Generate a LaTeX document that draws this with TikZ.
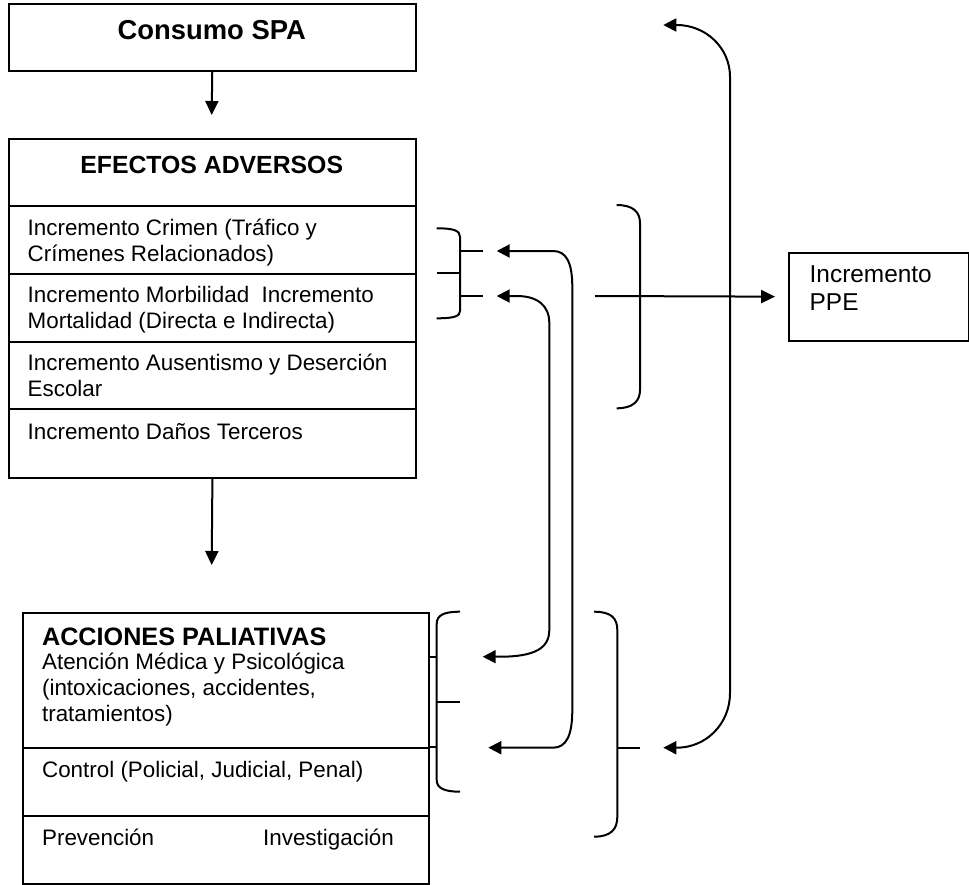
\documentclass[tikz,border=0pt]{standalone}
\usepackage{fontspec}
\setmainfont{Liberation Sans}
\usetikzlibrary{arrows.meta}
\tikzset{
    base/.style = {draw=black, line width=1pt},
    % Boxes and texts
    caja/.style   = {base, rectangle, inner sep=0pt, anchor=north west},
    titulo/.style = {font=\bfseries\fontsize{12.4}{15}\selectfont, anchor=base, inner sep=0pt},
    texto/.style  = {font=\fontsize{11.2}{12.8}\selectfont, align=left, anchor=north west,
                     inner sep=0pt, execute at begin node=\strut},
    % Connectors and brackets
    flecha/.style   = {base, -{Triangle[length=7pt, width=6.5pt]}},
    doble/.style    = {base, {Triangle[length=6.5pt, width=6.5pt]}-{Triangle[length=6.5pt, width=6.5pt]}},
    corchete/.style = {base}
}
\begin{document}
\begin{tikzpicture}[x=0.5pt, y=-0.5pt]
    \useasboundingbox (0,0) rectangle (969,884);

    % Boxes
    \node (consumo) [caja, minimum width=203.4pt, minimum height=33.4pt] at (8.3,3.3) {};
    \node (efTit) [caja, minimum width=203.4pt, minimum height=33.5pt] at (8.3,138.3) {};
    \node (ef1) [caja, minimum width=203.4pt, minimum height=34pt] at (8.3,205) {};
    \node (ef2) [caja, minimum width=203.4pt, minimum height=34pt] at (8.3,273) {};
    \node (ef3) [caja, minimum width=203.4pt, minimum height=33.5pt] at (8.3,341) {};
    \node (ef4) [caja, minimum width=203.4pt, minimum height=34.35pt] at (8.3,408) {};

    \node (acc1) [caja, minimum width=203.3pt, minimum height=67.5pt] at (21.7,611.7) {};
    \node (acc2) [caja, minimum width=203.3pt, minimum height=34.15pt] at (21.7,746.7) {};
    \node (acc3) [caja, minimum width=203.3pt, minimum height=34pt] at (21.7,815) {};

    \node (ppe) [caja, minimum width=89.6pt, minimum height=44pt] at (788.3,252) {};

    % Texts
    \node (tConsumo) [titulo, font=\bfseries\fontsize{13.7}{16}\selectfont] at (211.7,39) {Consumo SPA};
    \node (tEfectos) [titulo] at (211.7,173) {EFECTOS ADVERSOS};
    \node (tCrimen) [texto] at (27.3,218.8) {Incremento Crimen (Tráfico y\\Crímenes Relacionados)};
    \node (tMorb) [texto] at (27.3,286.1) {Incremento Morbilidad\ \ Incremento\\Mortalidad (Directa e Indirecta)};
    \node (tAusent) [texto] at (27.3,353.8) {Incremento Ausentismo y Deserción\\Escolar};
    \node (tDanos) [texto] at (27.3,421.4) {Incremento Daños Terceros};

    \node (tAcciones) [titulo, anchor=base west, font=\bfseries\fontsize{12.6}{15}\selectfont] at (41.7,645) {ACCIONES PALIATIVAS};
    \node (tAtencion) [texto, font=\fontsize{11.2}{13}\selectfont] at (41.7,652.8) {Atención Médica y Psicológica\\(intoxicaciones, accidentes,\\tratamientos)};
    \node (tControl) [texto] at (41.7,759.1) {Control (Policial, Judicial, Penal)};
    \node (tPrev) [texto, anchor=base west] at (41.7,845) {Prevención};
    \node (tInvest) [texto, anchor=base east] at (394.3,845) {Investigación};

    \node (tPPE) [texto, font=\fontsize{12.2}{14}\selectfont] at (809.3,265.4) {Incremento\\PPE};

    % Free ends
    \coordinate (pEf) at (211.7,115);
    \coordinate (pAcc) at (211.7,565);
    \coordinate (pCruce) at (595,296);
    \coordinate (d1a) at (496.7,251);
    \coordinate (d1b) at (488.3,747.7);
    \coordinate (d2a) at (496.7,296);
    \coordinate (d2b) at (482.7,656.7);
    \coordinate (d3a) at (663.3,25);
    \coordinate (d3b) at (663.3,747.7);

    % Brackets
    \draw [corchete] (436.7,228.3) .. controls (455,228.3) and (460,231) .. (460,237) -- (460,311)
        .. controls (460,316) and (455,318.3) .. (436.7,318.3);
    \draw [corchete] (460,251) -- (482.7,251);
    \draw [corchete] (436.7,273.3) -- (460,273.3);
    \draw [corchete] (460,296) -- (482.7,296);

    \draw [corchete] (616.7,205) .. controls (633,205) and (640,212) .. (640,223) -- (640,390)
        .. controls (640,401) and (633,408.3) .. (616.7,408.3);

    \draw [corchete] (460,611.7) .. controls (444,611.7) and (436.7,615) .. (436.7,624) -- (436.7,780)
        .. controls (436.7,788) and (444,791.7) .. (460,791.7);
    \draw [corchete] (acc1.east |- 0,656.7) -- (436.7,656.7);
    \draw [corchete] (436.7,701.7) -- (460,701.7);
    \draw [corchete] (acc2.north east) -- (436.7,746.7);

    \draw [corchete] (594,611.7) .. controls (611,611.7) and (617.3,618) .. (617.3,630) -- (617.3,817)
        .. controls (617.3,829) and (611,836.7) .. (594,836.7);
    \draw [corchete] (617.3,747.7) -- (640,747.7);

    % Edges
    \draw [flecha] (consumo) -- (pEf);
    \draw [flecha] (ef4) -- (pAcc);
    \draw [flecha, shorten >=6.6pt] (pCruce) -- (ppe);

    \draw [doble] (d1a) -- (553,251) .. controls (566,251) and (572.3,262) .. (572.3,287) -- (572.3,710)
        .. controls (572.3,736) and (566,747.7) .. (553,747.7) -- (d1b);
    \draw [doble] (d2a) -- (516.7,296) .. controls (538,296) and (549.3,306) .. (549.3,323) -- (549.3,630)
        .. controls (549.3,648) and (535,656.7) .. (500,656.7) -- (d2b);
    \draw [doble] (d3a) -- (676.7,25) .. controls (706,25) and (730,48) .. (730,76.7) -- (730,693)
        .. controls (730,724) and (706,747.7) .. (676.7,747.7) -- (d3b);
\end{tikzpicture}
\end{document}
